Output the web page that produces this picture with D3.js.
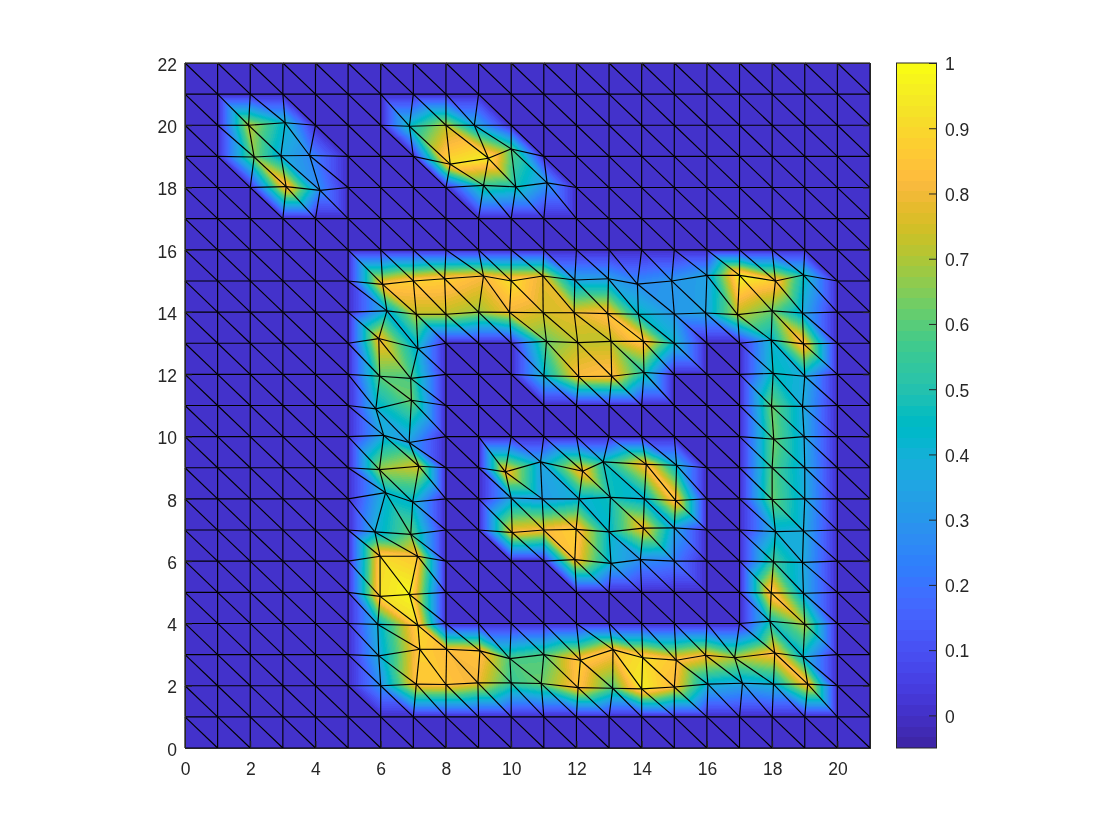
<!DOCTYPE html>
<html><head><meta charset="utf-8">
<script src="https://cdn.jsdelivr.net/npm/d3@7"></script>
<style>
html,body{margin:0;padding:0;background:#fff;}
#wrap{position:relative;width:1120px;height:840px;overflow:hidden;}
canvas,svg{position:absolute;left:0;top:0;}
text{font-family:"Liberation Sans",Arial,sans-serif;font-size:17.5px;fill:#262626;}
</style></head><body><div id="wrap"><canvas id="cv" width="1120" height="840"></canvas><svg id="sv" width="1120" height="840"></svg></div>
<script>
const xTicks=[0,2,4,6,8,10,12,14,16,18,20];
const yTicks=[0,2,4,6,8,10,12,14,16,18,20,22];
const cbTicks=[0,0.1,0.2,0.3,0.4,0.5,0.6,0.7,0.8,0.9,1];
const nCols=22, nRows=23;
const xDomain=[0,21], yDomain=[0,22], cDomain=[-0.05,1];

// Node value per row: [y, [x, value], ...]; every node not listed is 0
const row20=[20,[2,.72],[3,.42],[7,.45],[8,.72],[9,.38]];
const row19=[19,[2,.65],[3,.38],[4,.26],[8,.92],[9,.95],[10,.6]];
const row18=[18,[3,.88],[4,.26],[9,.55],[10,.48],[11,.3]];
const row15=[15,[6,.85],[7,.88],[8,.88],[9,.82],[10,.92],[11,.78],[12,.35],[13,.33],[14,.28],[15,.3],[16,.34],[17,.98],[18,.87],[19,.46]];
const row14=[14,[6,.4],[7,.72],[8,.72],[9,.68],[10,.8],[11,.75],[12,.78],[13,.85],[14,.45],[15,.31],[16,.34],[17,.72],[18,.62],[19,.38]];
const row13=[13,[6,.82],[7,.4],[11,.62],[12,.72],[13,.72],[14,.88],[15,.42],[18,.42],[19,.88]];
const row12=[12,[6,.6],[7,.58],[11,.42],[12,.82],[13,.85],[14,.5],[18,.46],[19,.38]];
const row11=[11,[6,.4],[7,.63],[18,.63],[19,.38]];
const row10=[10,[6,.38],[7,.33],[18,.63],[19,.37]];
const row9=[9,[6,.68],[7,.75],[10,.85],[11,.35],[12,.85],[13,.47],[14,.85],[15,.4],[18,.6],[19,.37]];
const row8=[8,[6,.42],[7,.42],[10,.35],[11,.32],[12,.4],[13,.47],[14,.4],[15,.88],[18,.62],[19,.38]];
const row7=[7,[6,.38],[7,.62],[10,.82],[11,.82],[12,.88],[13,.43],[14,.82],[15,.35],[18,.4],[19,.38]];
const row6=[6,[6,.9],[7,.85],[12,.85],[13,.4],[14,.28],[15,.22],[18,.56],[19,.38]];
const row5=[5,[6,.92],[7,.98],[18,.9],[19,.38]];
const row4=[4,[6,.4],[7,.9],[18,.47],[19,.7]];
const row3=[3,[6,.36],[7,.88],[8,.82],[9,.85],[10,.58],[11,.58],[12,.88],[13,.85],[14,.92],[15,.85],[16,.82],[17,.7],[18,.85],[19,.42]];
const row2=[2,[6,.28],[7,.85],[8,.85],[9,.8],[10,.55],[11,.62],[12,.85],[13,.58],[14,.95],[15,.82],[16,.4],[17,.36],[18,.4],[19,.85]];
const valueRows=[row20,row19,row18,row15,row14,row13,row12,row11,row10,row9,row8,row7,row6,row5,row4,row3,row2];

// Mesh nodes that moved away from the regular grid: [col, row, x, y]
const movedTopLeft=[[2,20,1.95,20],[3,20,3.07,20.08],[2,19,2.12,18.98],[3,19,2.94,19.02],[4,19,3.82,19.03],[3,18,3.1,18.03],[4,18,4.14,17.91]];
const movedTopMid=[[7,20,6.88,19.97],[9,20,8.87,20],[8,19,8.13,18.75],[9,19,9.3,18.94],[10,19,10,19.24],[9,18,9.15,18.07],[10,18,10.14,18.02],[11,18,11.1,18.15]];
const movedRow15=[[6,15,6.06,14.89],[8,15,7.96,15.07],[9,15,9.15,15.16],[11,15,10.97,15.16],[12,15,11.95,15.03],[13,15,12.98,15.07],[14,15,13.87,14.9],[15,15,14.92,15],[16,15,16,15.18],[17,15,17,15.18],[18,15,18.1,15],[19,15,18.96,15.19]];
const movedRow14=[[6,14,6.19,14.04],[7,14,7.09,13.93],[8,14,8,13.93],[10,14,9.95,13.99],[11,14,10.98,13.98],[12,14,11.93,13.98],[13,14,12.96,13.95],[14,14,13.9,13.93],[15,14,15,13.94],[16,14,15.96,13.97],[17,14,16.94,13.92],[18,14,18,14.04],[19,14,18.93,13.97]];
const movedRow13=[[6,13,5.94,13.15],[7,13,7.14,12.83],[11,13,11.08,13.06],[12,13,12.04,13.02],[13,13,13.06,13.06],[14,13,14.05,13.06],[18,13,17.97,13.1],[19,13,18.96,12.98]];
const movedRow12=[[6,12,5.97,11.94],[7,12,6.92,11.87],[11,12,11,11.95],[12,12,12.07,11.93],[13,12,13.08,11.94],[14,12,14.07,12.06],[18,12,18.03,12.03],[19,12,19,11.94]];
const movedRow11=[[6,11,5.85,10.89],[7,11,6.94,11.17],[18,11,17.98,10.98],[19,11,18.93,10.97]];
const movedRow10=[[6,10,6.09,10.04],[7,10,6.87,9.81],[18,10,18.05,9.92],[19,10,18.98,10]];
const movedRow9=[[6,9,5.96,8.94],[7,9,7.17,9.05],[10,9,9.82,8.87],[11,9,10.9,9.19],[12,9,12.19,8.89],[13,9,12.82,9.19],[14,9,14.14,9.11],[15,9,15.07,9.08]];
const movedRow8=[[6,8,6.15,8.2],[7,8,6.98,7.9],[10,8,10,8.03],[11,8,10.95,8],[12,8,12.08,8],[13,8,13.04,8.05],[14,8,14.08,8],[15,8,15.04,7.95],[18,8,18,7.98]];
const movedRow7=[[6,7,5.82,6.94],[7,7,6.92,6.86],[10,7,10.03,6.92],[12,7,11.99,7.02],[13,7,13,6.94],[14,7,14.05,7.06],[15,7,15,7.07],[18,7,18.1,6.95],[19,7,18.96,6.97]];
const movedRow6=[[6,6,5.98,6.16],[7,6,7.13,6.16],[12,6,11.95,6.05],[13,6,13.06,5.93],[14,6,13.96,6.05],[18,6,18.04,5.98],[19,6,18.93,5.96]];
const movedRow5=[[6,5,5.98,4.87],[7,5,6.88,4.93],[18,5,17.97,4.98],[19,5,18.96,4.97]];
const movedRow4=[[6,4,5.91,3.97],[7,4,7.14,3.94],[18,4,17.93,4.07],[19,4,19,3.97]];
const movedRow3=[[6,3,5.94,2.96],[7,3,7.2,3.17],[8,3,8.02,3.17],[9,3,9.04,3.12],[10,3,9.96,2.87],[12,3,12.12,2.82],[13,3,13.12,3.16],[14,3,14.03,2.9],[15,3,15.06,2.82],[16,3,15.96,2.98],[17,3,16.85,2.9],[18,3,18.08,3.05],[19,3,18.95,2.93]];
const movedRow2=[[7,2,7.09,2.05],[8,2,8,2.04],[9,2,8.98,2.09],[10,2,10,2.09],[11,2,10.92,2.07],[12,2,12.05,1.94],[13,2,13.11,1.92],[14,2,14,1.9],[15,2,15,1.96],[16,2,16.03,2.05],[17,2,17.09,2.08],[18,2,18.04,2.05],[19,2,19.09,2.05]];
const movedNodes=[movedTopLeft,movedTopMid,movedRow15,movedRow14,movedRow13,movedRow12,movedRow11,movedRow10,movedRow9,movedRow8,movedRow7,movedRow6,movedRow5,movedRow4,movedRow3,movedRow2].flat();

const parula=[[.2422,.1504,.6603],[.2504,.165,.7076],[.2578,.1818,.7511],[.2647,.1978,.7952],[.2706,.2147,.8364],[.2751,.2342,.871],[.2783,.2559,.8991],[.2803,.2782,.9221],[.2813,.3006,.9414],[.281,.3228,.9579],[.2795,.3447,.9717],[.276,.3667,.9829],[.2699,.3892,.9906],[.2602,.4123,.9952],[.244,.4358,.9988],[.2206,.4603,.9973],[.1963,.4847,.9892],[.1834,.5074,.9798],[.1786,.5289,.9682],[.1764,.5499,.952],[.1687,.5703,.9359],[.154,.5902,.9218],[.146,.6091,.9079],[.138,.6276,.8973],[.1248,.6459,.8883],[.1113,.6635,.8763],[.0952,.6798,.8598],[.0689,.6948,.8394],[.0297,.7082,.8163],[.0036,.7203,.7917],[.0067,.7312,.766],[.0433,.7411,.7394],[.0964,.75,.712],[.1408,.7584,.6842],[.1717,.767,.6554],[.1938,.7758,.6251],[.2161,.7843,.5923],[.247,.7918,.5567],[.2906,.7973,.5188],[.3406,.8008,.4789],[.3909,.8029,.4354],[.4456,.8024,.3909],[.5044,.7993,.348],[.5616,.7942,.3045],[.6174,.7876,.2612],[.672,.7793,.2227],[.7242,.7698,.191],[.7738,.7598,.1646],[.8203,.7498,.1535],[.8634,.7406,.1596],[.9035,.733,.1774],[.9393,.7288,.21],[.9728,.7298,.2394],[.9956,.7434,.2371],[.997,.7659,.2199],[.9952,.7893,.2028],[.9892,.8136,.1885],[.9786,.8386,.1766],[.9676,.8639,.1643],[.961,.889,.1537],[.9597,.9135,.1423],[.9628,.9373,.1265],[.9691,.9606,.1064],[.9769,.9839,.0805]];

const x=d3.scaleLinear().domain(xDomain).range([185,870]);
const y=d3.scaleLinear().domain(yDomain).range([748,63]);
const cY=d3.scaleLinear().domain(cDomain).range([748,63]);
const cIdx=d3.scaleLinear().domain(cDomain).range([0,parula.length]).clamp(true);
const rgbOf=v=>parula[Math.min(parula.length-1,Math.floor(cIdx(v)))].map(c=>Math.round(c*255));

// Build nodes
const val=d3.range(nRows).map(()=>d3.range(nCols).map(()=>0));
valueRows.forEach(r=>r.slice(1).forEach(([c,v])=>{val[r[0]][c]=v;}));
const node=(c,r)=>({dx:c,dy:r,v:val[r][c]});
const nodes=d3.range(nRows).map(r=>d3.range(nCols).map(c=>node(c,r)));
movedNodes.forEach(([c,r,dx,dy])=>{nodes[r][c].dx=dx;nodes[r][c].dy=dy;});
nodes.flat().forEach(n=>{n.px=x(n.dx);n.py=y(n.dy);});

const tris=[];
for(let r=0;r<nRows-1;r++)for(let c=0;c<nCols-1;c++){
  const a=nodes[r][c],b=nodes[r][c+1],d=nodes[r+1][c],e=nodes[r+1][c+1];
  tris.push([a,b,d],[b,e,d]);
}

// Interpolated fill
const cv=document.getElementById('cv');
const ctx=cv.getContext('2d');
ctx.fillStyle='#fff';ctx.fillRect(0,0,1120,840);
const img=ctx.getImageData(0,0,1120,840);
const put=(px,py,rgb)=>{const i=(py*1120+px)*4;img.data[i]=rgb[0];img.data[i+1]=rgb[1];img.data[i+2]=rgb[2];img.data[i+3]=255;};
tris.forEach(([a,b,c])=>{
  const det=(b.py-c.py)*(a.px-c.px)+(c.px-b.px)*(a.py-c.py);
  const x0=Math.floor(Math.min(a.px,b.px,c.px)),x1=Math.ceil(Math.max(a.px,b.px,c.px));
  const y0=Math.floor(Math.min(a.py,b.py,c.py)),y1=Math.ceil(Math.max(a.py,b.py,c.py));
  for(let py=y0;py<=y1;py++)for(let px=x0;px<=x1;px++){
    const sx=px+.5,sy=py+.5;
    const l1=((b.py-c.py)*(sx-c.px)+(c.px-b.px)*(sy-c.py))/det;
    const l2=((c.py-a.py)*(sx-c.px)+(a.px-c.px)*(sy-c.py))/det;
    const l3=1-l1-l2;
    if(l1<-1e-3||l2<-1e-3||l3<-1e-3)continue;
    put(px,py,rgbOf(l1*a.v+l2*b.v+l3*c.v));
  }
});
// Colour bar
for(let py=Math.round(cY(cDomain[1]));py<Math.round(cY(cDomain[0]));py++){
  const rgb=rgbOf(cY.invert(py+.5));
  for(let px=897;px<937;px++)put(px,py,rgb);
}
ctx.putImageData(img,0,0);

const svg=d3.select('#sv');
// Mesh edges
const edgeSet=[];
for(let r=0;r<nRows;r++)for(let c=0;c<nCols;c++){
  if(c<nCols-1)edgeSet.push([nodes[r][c],nodes[r][c+1]]);
  if(r<nRows-1)edgeSet.push([nodes[r][c],nodes[r+1][c]]);
  if(r<nRows-1&&c<nCols-1)edgeSet.push([nodes[r][c+1],nodes[r+1][c]]);
}
svg.append('g').selectAll('line').data(edgeSet).join('line')
 .attr('x1',d=>d[0].px).attr('y1',d=>d[0].py).attr('x2',d=>d[1].px).attr('y2',d=>d[1].py)
 .attr('stroke','#000').attr('stroke-width',1.15);

function style(g){g.select('.domain').attr('stroke','#262626').attr('stroke-width',1);g.selectAll('.tick line').attr('stroke','#262626');g.selectAll('text').attr('fill','#262626').style('font-size','17.5px');}
svg.append('g').attr('transform','translate(0,748)').call(d3.axisBottom(x).tickValues(xTicks).tickSize(-7).tickPadding(15).tickFormat(d3.format('d'))).call(style);
svg.append('g').attr('transform','translate(185,0)').call(d3.axisLeft(y).tickValues(yTicks).tickSize(-7).tickPadding(8).tickFormat(d3.format('d'))).call(style).selectAll('text').attr('dy','0.41em');
svg.append('g').attr('transform','translate(0,63)').call(d3.axisTop(x).tickValues(xTicks).tickSize(-7).tickFormat('')).call(style);
svg.append('g').attr('transform','translate(870,0)').call(d3.axisRight(y).tickValues(yTicks).tickSize(-7).tickFormat('')).call(style);
const cbFmt=d=>String(d);
svg.append('rect').attr('x',896.5).attr('y',63).attr('width',40).attr('height',685).attr('fill','none').attr('stroke','#262626');
const cbAxis=svg.append('g').attr('transform','translate(936,0)').call(d3.axisRight(cY).tickValues(cbTicks).tickSize(-7).tickPadding(9).tickFormat(cbFmt)).call(style);
cbAxis.select('.domain').remove();
cbAxis.selectAll('text').attr('dy','0.39em');
</script></body></html>
